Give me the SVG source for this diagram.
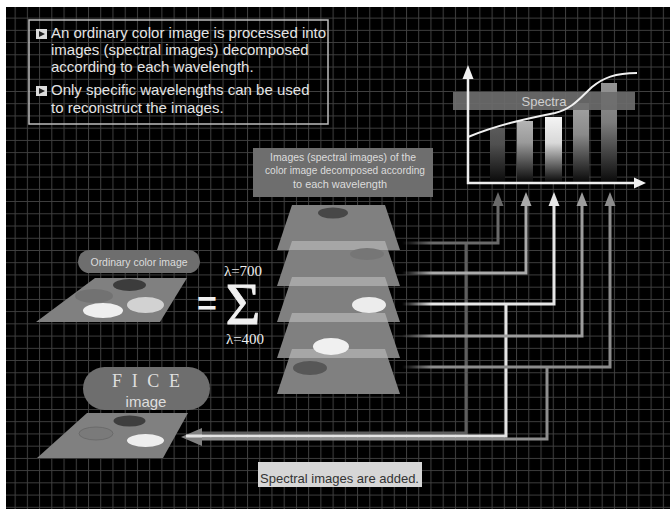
<svg xmlns="http://www.w3.org/2000/svg" width="670" height="509" viewBox="0 0 670 509">
  <style>
    .sans { font-family: "Liberation Sans", Arial, sans-serif; }
    .serif { font-family: "Liberation Serif", "Times New Roman", serif; }
    .box-text { font-size: 15px; fill: #e4e4e4; }
    .label { fill: #6e6e6e; }
    .label-text { font-size: 11px; fill: #dcdcdc; }
    .plane { fill: #808080; }
    .strip { fill: #a6a6a6; }
    .conn { fill: none; stroke-width: 3; }
  </style>
  <defs>
    <pattern id="grid" x="2.4" y="5.4" width="12.23" height="12.23" patternUnits="userSpaceOnUse">
      <path d="M0.5 0 V12.23 M0 0.5 H12.23" stroke="#404040" stroke-width="1" fill="none"/>
    </pattern>
    <linearGradient id="fadeIn" gradientUnits="userSpaceOnUse" x1="402" y1="0" x2="432" y2="0">
      <stop offset="0" stop-color="#000"/>
      <stop offset="1" stop-color="#fff"/>
    </linearGradient>
    <mask id="lineFade" maskUnits="userSpaceOnUse" x="0" y="0" width="670" height="509">
      <rect x="0" y="0" width="670" height="509" fill="#fff"/>
      <rect x="395" y="230" width="37" height="150" fill="url(#fadeIn)"/>
    </mask>
    <linearGradient id="bar1" x1="0" y1="0" x2="0" y2="1">
      <stop offset="0" stop-color="#5a5a5a"/><stop offset="0.3" stop-color="#505050"/><stop offset="1" stop-color="#0a0a0a"/>
    </linearGradient>
    <linearGradient id="bar2" x1="0" y1="0" x2="0" y2="1">
      <stop offset="0" stop-color="#b4b4b4"/><stop offset="0.35" stop-color="#9a9a9a"/><stop offset="1" stop-color="#0a0a0a"/>
    </linearGradient>
    <linearGradient id="bar3" x1="0" y1="0" x2="0" y2="1">
      <stop offset="0" stop-color="#f4f4f4"/><stop offset="0.4" stop-color="#d8d8d8"/><stop offset="1" stop-color="#0a0a0a"/>
    </linearGradient>
    <linearGradient id="bar4" x1="0" y1="0" x2="0" y2="1">
      <stop offset="0" stop-color="#a4a4a4"/><stop offset="0.4" stop-color="#8a8a8a"/><stop offset="1" stop-color="#0a0a0a"/>
    </linearGradient>
    <linearGradient id="bar5" x1="0" y1="0" x2="0" y2="1">
      <stop offset="0" stop-color="#949494"/><stop offset="0.4" stop-color="#7c7c7c"/><stop offset="1" stop-color="#0a0a0a"/>
    </linearGradient>
  </defs>

  <!-- background: white frame, black field, grid -->
  <rect x="0" y="0" width="670" height="509" fill="#fff"/>
  <rect x="6" y="7" width="664" height="502" fill="#000"/>
  <rect x="6" y="7" width="664" height="502" fill="url(#grid)"/>

  <!-- explanation box -->
  <g id="note">
    <rect x="29" y="20" width="299" height="104" fill="none" stroke="#bdbdbd" stroke-width="1.5"/>
    <rect x="36" y="29" width="11" height="10" fill="#dcdcdc"/>
    <polygon points="39,31 39,37 45,34" fill="#222"/>
    <rect x="36" y="86" width="11" height="10" fill="#dcdcdc"/>
    <polygon points="39,88 39,94 45,91" fill="#222"/>
    <text class="sans box-text" x="51" y="38">An ordinary color image is processed into</text>
    <text class="sans box-text" x="51" y="55">images (spectral images) decomposed</text>
    <text class="sans box-text" x="51" y="72">according to each wavelength.</text>
    <text class="sans box-text" x="51" y="95">Only specific wavelengths can be used</text>
    <text class="sans box-text" x="51" y="113">to reconstruct the images.</text>
  </g>

  <!-- spectra chart -->
  <g id="chart">
    <rect x="490" y="128" width="15" height="54" fill="url(#bar1)"/>
    <rect x="517" y="121" width="16" height="61" fill="url(#bar2)"/>
    <rect x="545" y="117" width="17" height="65" fill="url(#bar3)"/>
    <rect x="573" y="103" width="16" height="79" fill="url(#bar4)"/>
    <rect x="601" y="83" width="16" height="99" fill="url(#bar5)"/>
    <rect x="453" y="92" width="182" height="18" fill="#6c6c6c" opacity="0.92"/>
    <text class="sans" x="544" y="106" font-size="13" fill="#cfcfcf" text-anchor="middle">Spectra</text>
    <path d="M468 137 C500 124 530 118 555 113 C572 109 580 98 592 87 C603 78 615 73 637 73" fill="none" stroke="#f0f0f0" stroke-width="2"/>
    <path d="M468 78 V183 H636" fill="none" stroke="#eeeeee" stroke-width="2.5"/>
    <polygon points="468,65 462.5,79 473.5,79" fill="#f2f2f2"/>
    <polygon points="646,183 634,177.5 634,188.5" fill="#f2f2f2"/>
  </g>

  <!-- header of the spectral image stack -->
  <g id="stack-label">
    <rect x="253" y="148" width="180" height="49" class="label"/>
    <text class="sans label-text" x="343" y="161" text-anchor="middle" textLength="146" lengthAdjust="spacingAndGlyphs">Images (spectral images) of the</text>
    <text class="sans label-text" x="345" y="174" text-anchor="middle" textLength="160" lengthAdjust="spacingAndGlyphs">color image decomposed according</text>
    <text class="sans label-text" x="340" y="188" text-anchor="middle" textLength="94" lengthAdjust="spacingAndGlyphs">to each wavelength</text>
  </g>

  <!-- connectors -->
  <g id="connectors">
    <!-- summing branches down to the result -->
    <path class="conn" d="M547 367 V439 H200" stroke="#8e8e8e"/>
    <path class="conn" d="M466 243 V433 H200" stroke="#5e5e5e"/>
    <polygon points="181,437 202,428 202,446" fill="#808080"/>
    <path class="conn" d="M506 304 V436 H186" stroke="#e4e4e4"/>
    <!-- each wavelength up to the chart -->
    <g mask="url(#lineFade)">
      <path class="conn" d="M400 243 H498 V204" stroke="#6a6a6a"/>
      <path class="conn" d="M400 273 H526 V204" stroke="#aaaaaa"/>
      <path class="conn" d="M400 304 H554 V204" stroke="#e6e6e6"/>
      <path class="conn" d="M400 336 H582 V204" stroke="#9c9c9c"/>
      <path class="conn" d="M400 367 H610 V204" stroke="#8c8c8c"/>
    </g>
    <polygon points="498,192 492.5,206 503.5,206" fill="#6a6a6a"/>
    <polygon points="526,192 520.5,206 531.5,206" fill="#aaaaaa"/>
    <polygon points="554,192 548.5,206 559.5,206" fill="#e6e6e6"/>
    <polygon points="582,192 576.5,206 587.5,206" fill="#9c9c9c"/>
    <polygon points="610,192 604.5,206 615.5,206" fill="#8c8c8c"/>
  </g>

  <!-- spectral image stack -->
  <g id="stack">
    <polygon class="plane" points="292,205 385,205 400,250 277,250" fill="#868686"/>
    <polygon class="plane" points="292,241 385,241 400,286 277,286"/>
    <polygon class="plane" points="292,277 385,277 400,322 277,322"/>
    <polygon class="plane" points="292,313 385,313 400,358 277,358"/>
    <polygon class="plane" points="292,349 385,349 400,394 277,394"/>
    <polygon class="strip" points="292,241 385,241 388,250 289,250"/>
    <polygon class="strip" points="292,277 385,277 388,286 289,286"/>
    <polygon class="strip" points="292,313 385,313 388,322 289,322"/>
    <polygon class="strip" points="292,349 385,349 388,358 289,358"/>
    <ellipse cx="333" cy="213" rx="15" ry="5.5" fill="#474747"/>
    <ellipse cx="367" cy="254" rx="17" ry="6" fill="#767676"/>
    <ellipse cx="369" cy="305" rx="17" ry="8" fill="#ececec"/>
    <ellipse cx="331" cy="346.5" rx="18" ry="8.5" fill="#f0f0f0"/>
    <ellipse cx="310" cy="368" rx="17" ry="7" fill="#575757"/>
  </g>

  <!-- sum expression: limits and sigma set as one formula -->
  <g id="sum">
    <text class="sans" x="207" y="315" font-size="34" font-weight="bold" fill="#f0f0f0" text-anchor="middle">=</text>
    <text class="serif" fill="#f0f0f0" text-anchor="middle">
      <tspan x="245" y="276" font-size="15">λ=700</tspan>
      <tspan x="245" y="324" font-size="60" stroke="#f0f0f0" stroke-width="0.8">Σ</tspan>
      <tspan x="245" y="344" font-size="15">λ=400</tspan>
    </text>
  </g>

  <!-- ordinary color image -->
  <g id="ordinary-image">
    <rect x="78" y="250" width="122" height="23" rx="11.5" class="label"/>
    <text class="sans label-text" x="139" y="266" text-anchor="middle" textLength="97" lengthAdjust="spacingAndGlyphs">Ordinary color image</text>
    <polygon class="plane" points="95,278 187,278 160,322 36,322"/>
    <ellipse cx="94" cy="296" rx="19" ry="7" fill="#727272"/>
    <ellipse cx="129.5" cy="285" rx="16.5" ry="6" fill="#3c3c3c"/>
    <ellipse cx="103" cy="310.5" rx="20" ry="7.5" fill="#efefef"/>
    <ellipse cx="145.5" cy="305" rx="18.5" ry="8" fill="#d2d2d2"/>
  </g>

  <!-- reconstructed FICE image -->
  <g id="fice-image">
    <rect x="83" y="367" width="127" height="43" rx="21.5" class="label"/>
    <text class="serif" x="146" y="387" font-size="18" fill="#dedede" text-anchor="middle" textLength="68">F I C E</text>
    <text class="sans" x="146" y="407" font-size="15" fill="#dedede" text-anchor="middle">image</text>
    <polygon class="plane" points="87,413 188,413 163,458 37,458"/>
    <ellipse cx="96" cy="433.5" rx="17" ry="6.5" fill="#7a7a7a" stroke="#666" stroke-width="0.8"/>
    <ellipse cx="129.5" cy="421" rx="16" ry="5.5" fill="#3e3e3e"/>
    <ellipse cx="145.5" cy="440.5" rx="18.5" ry="6.5" fill="#eeeeee"/>
  </g>

  <!-- caption -->
  <g id="caption">
    <rect x="258" y="462" width="164" height="25" fill="#d6d6d6"/>
    <text class="sans" x="260" y="483" font-size="13" fill="#333">Spectral images are added.</text>
  </g>
</svg>
